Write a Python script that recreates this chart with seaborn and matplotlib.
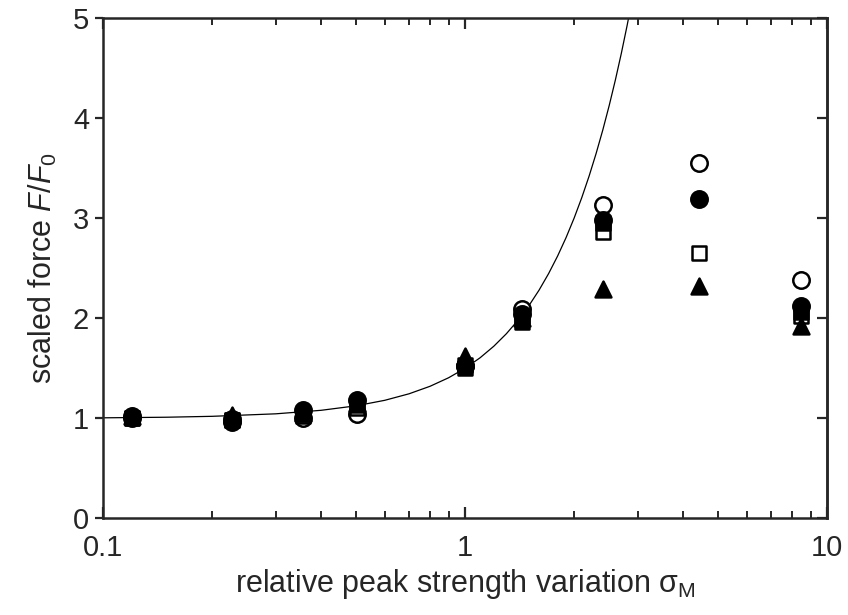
import numpy as np
import pandas as pd
import matplotlib
matplotlib.use('Agg')
import matplotlib.pyplot as plt
import seaborn as sns
from matplotlib.ticker import LogLocator, NullFormatter

# values
sigma = [0.12, 0.227, 0.357, 0.503, 1.0, 1.44, 2.4, 4.42, 8.45]
open_circle = [1.00, 0.99, 1.00, 1.04, 1.52, 2.09, 3.13, 3.55, 2.38]
filled_circle = [1.02, 0.96, 1.08, 1.18, 1.52, 2.04, 2.98, 3.19, 2.12]
open_square = [1.00, 0.98, 1.02, 1.10, 1.53, 2.02, 2.86, 2.65, 2.02]
filled_triangle = [1.02, 1.03, 1.05, 1.15, 1.62, 2.00, 2.29, 2.32, 1.92]
filled_square = [1.00, 0.98, 1.04, 1.13, 1.50, 1.96, 2.95, np.nan, 2.06]

# theory curve, points
curve_sigma = [0.1, 0.15, 0.2, 0.3, 0.4, 0.5, 0.6, 0.7, 0.8, 0.9, 1.0, 1.1, 1.2,
               1.3, 1.4, 1.5, 1.6, 1.7, 1.8, 1.9, 2.0, 2.1, 2.2, 2.3, 2.4,
               2.5, 2.6, 2.7, 2.8, 2.86]
curve_force = [1.005, 1.011, 1.02, 1.045, 1.08, 1.125, 1.18, 1.245, 1.32, 1.405,
               1.5, 1.605, 1.72, 1.845, 1.98, 2.125, 2.28, 2.445, 2.62, 2.805,
               3.0, 3.205, 3.42, 3.645, 3.88, 4.125, 4.38, 4.645, 4.92, 5.09]

sns.set_style('ticks')
plt.rcParams['font.family'] = ['Liberation Sans', 'DejaVu Sans']
plt.rcParams['mathtext.fontset'] = 'custom'
plt.rcParams['mathtext.rm'] = 'Liberation Sans'
plt.rcParams['mathtext.it'] = 'Liberation Sans:italic'
plt.rcParams['axes.linewidth'] = 1.8

fig = plt.figure(figsize=(8.48, 6.15), dpi=100)
ax = fig.add_axes([0.1215, 0.157, 0.854, 0.814])

sns.lineplot(x=curve_sigma, y=curve_force, ax=ax, color='black', lw=0.9,
             estimator=None, sort=False, zorder=1)

# open markers first, filled ones drawn on top
series = [
    (open_circle, 'o', 'white', 140),
    (open_square, 's', 'white', 110),
    (filled_square, 's', 'black', 110),
    (filled_circle, 'o', 'black', 140),
    (filled_triangle, '^', 'black', 130),
]
for i, (vals, mk, face, size) in enumerate(series):
    sns.scatterplot(x=sigma, y=vals, ax=ax, marker=mk, s=size, color=face,
                    edgecolor='black', linewidth=1.8, zorder=3 + i, clip_on=False)

ax.set_xscale('log')
ax.set_xlim(0.1, 10)
ax.set_ylim(0, 5)
ax.set_xticks([0.1, 1, 10])
ax.set_xticklabels(['0.1', '1', '10'])
ax.xaxis.set_minor_locator(LogLocator(base=10, subs=np.arange(2, 10)))
ax.xaxis.set_minor_formatter(NullFormatter())
ax.set_yticks([0, 1, 2, 3, 4, 5])
ax.set_yticklabels(['0', '1', '2', '3', '4', '5'])

ax.tick_params(axis='x', which='major', direction='in', top=True, length=8,
               width=1.6, labelsize=21, pad=11)
ax.tick_params(axis='x', which='minor', direction='in', top=True, length=5,
               width=1.4)
ax.tick_params(axis='y', direction='out', length=6, width=1.6, labelsize=21,
               pad=4)

sec = ax.secondary_yaxis('right')
sec.set_yticks([0, 1, 2, 3, 4, 5])
sec.tick_params(direction='in', length=7, width=1.6, labelright=False)

ax.set_xlabel('relative peak strength variation σ$_{\\mathrm{M}}$',
              fontsize=22, labelpad=4)
ax.set_ylabel('scaled force $\\mathit{F/F}_{\\mathrm{0}}$', fontsize=22,
              labelpad=10)

fig.savefig('out.png', dpi=100)
